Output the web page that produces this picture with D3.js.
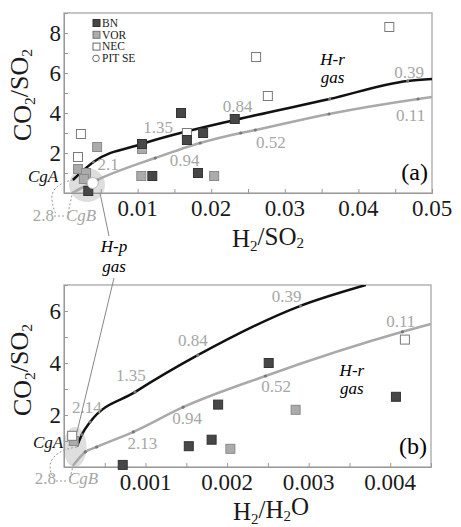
<!DOCTYPE html>
<html lang="en">
<head>
<meta charset="utf-8">
<title>CO2/SO2 vs H2 ratios</title>
<script src="https://cdn.jsdelivr.net/npm/d3@7"></script>
<style>
  body { margin: 0; background: #fff; }
  svg text { font-family: "Liberation Serif", "Times New Roman", "DejaVu Serif", serif; }
</style>
</head>
<body>
<script>
// ---- panel (a): CO2/SO2 vs H2/SO2 ----
var bnA  = [[0.0033,0.1],[0.012,0.85],[0.0106,2.45],[0.0159,4.0],[0.0167,2.65],[0.0189,3.0],[0.0182,1.0],[0.0232,3.7]];
var vorA = [[0.0019,1.2],[0.003,1.0],[0.0027,0.7],[0.0045,2.3],[0.0106,2.2],[0.0105,0.85],[0.0204,0.85]];
var necA = [[0.0019,1.8],[0.0023,2.95],[0.0167,3.0],[0.0261,6.8],[0.0277,4.85],[0.0442,8.3]];
var pitA = [[0.0039,0.5]];
var blackA = [[0.0012,0.65],[0.004,1.55],[0.0106,2.45],[0.0232,3.65],[0.0361,4.7],[0.0467,5.6],[0.05,5.7]];
var grayA  = [[0.0011,0.0],[0.0045,0.65],[0.0124,1.75],[0.0185,2.5],[0.024,3.0],[0.026,3.15],[0.036,3.95],[0.0481,4.7],[0.05,4.8]];
var labelsA = [["2.1",0.006,1.15],["1.35",0.0128,3.0],["0.94",0.0164,1.35],["0.84",0.0236,4.05],
               ["0.52",0.0281,2.25],["0.39",0.0469,5.75],["0.11",0.0471,3.6]];
var xTicksA = [0.01,0.02,0.03,0.04,0.05];
var yTicksA = [2,4,6,8];

// ---- panel (b): CO2/SO2 vs H2/H2O ----
var bnB  = [[0.00072,0.08],[0.00153,0.8],[0.00181,1.05],[0.00189,2.4],[0.00251,4.0],[0.00407,2.7]];
var vorB = [[0.00204,0.7],[0.00284,2.2],[0.00012,1.0]];
var necB = [[0.00418,4.9],[0.0001,1.2]];
var blackB = [[0.00016,0.8],[0.00022,1.25],[0.00032,1.73],[0.00087,2.88],[0.00164,4.3],[0.0029,6.2],[0.0037,7.0]];
var grayB  = [[0.00011,0.05],[0.00026,0.58],[0.0004,0.77],[0.00085,1.35],[0.00146,2.3],[0.00247,3.5],[0.00415,5.2],[0.0045,5.5]];
var labelsB = [["0.39",0.00273,6.35],["0.84",0.00158,4.65],["1.35",0.00082,3.3],["2.14",0.00028,2.08],
               ["0.94",0.00151,1.65],["2.13",0.00096,0.7],["0.52",0.0026,2.9],["0.11",0.00413,5.4]];
var xTicksB = [0.001,0.002,0.003,0.004];
var yTicksB = [2,4,6];

var legendItems = ["BN","VOR","NEC","PIT SE"];

var SERIF = "Liberation Serif, Times New Roman, DejaVu Serif, serif";
var svg = d3.select("body").append("svg")
    .attr("width", 461)
    .attr("height", 527)
    .attr("font-family", SERIF);

var FRAME = "#b3b3b3";
var LABEL_GRAY = "#a6a6a6";

function sub(sel, parts) {
    // parts: [text, isSub, dy]
    parts.forEach(function(p) {
        var t = sel.append("tspan").text(p[0]);
        if (p[1]) t.attr("font-size", "0.6em").attr("dy", "0.25em");
        else t.attr("dy", p[2] || 0);
    });
}

function drawPanel(o) {
    var x = d3.scaleLinear().domain(o.xDomain).range([o.left, o.right]);
    var y = d3.scaleLinear().domain(o.yDomain).range([o.bottom, o.top]);
    var g = svg.append("g");

    var clipId = "clip" + o.id;
    svg.append("clipPath").attr("id", clipId)
        .append("rect")
        .attr("x", o.left).attr("y", o.top)
        .attr("width", o.right - o.left).attr("height", o.bottom - o.top);

    // highlight ellipse (H-p gas region)
    g.append("ellipse")
        .attr("cx", o.ell[0]).attr("cy", o.ell[1])
        .attr("rx", o.ell[2]).attr("ry", o.ell[3])
        .attr("fill", "#dedede");

    // frame
    g.append("rect")
        .attr("x", o.left).attr("y", o.top)
        .attr("width", o.right - o.left).attr("height", o.bottom - o.top)
        .attr("fill", "none").attr("stroke", FRAME).attr("stroke-width", 1.5);

    // ticks (inward)
    var xa = d3.axisBottom(x).tickValues(d3.range(o.xDomain[0], o.xDomain[1] + 1e-9, o.xMinor).slice(1))
        .tickSize(-4).tickFormat("");
    g.append("g").attr("transform", "translate(0," + o.bottom + ")").call(xa)
        .call(function(s) { s.select(".domain").attr("stroke", "#999"); s.selectAll("line").attr("stroke", "#999"); });
    var ya = d3.axisLeft(y).tickValues(d3.range(1, o.yDomain[1] + 0.1, 1)).tickSize(-4).tickFormat("");
    g.append("g").attr("transform", "translate(" + o.left + ",0)").call(ya)
        .call(function(s) { s.select(".domain").attr("stroke", "#999"); s.selectAll("line").attr("stroke", "#999"); });

    // tick labels
    g.selectAll(".xt").data(o.xTicks).enter().append("text")
        .attr("x", function(d) { return x(d); })
        .attr("y", o.bottom + 23)
        .attr("text-anchor", "middle")
        .attr("font-size", 23).attr("fill", "#1a1a1a")
        .text(function(d) { return d3.format("")(d); });
    g.selectAll(".yt").data(o.yTicks).enter().append("text")
        .attr("x", o.left - 3)
        .attr("y", function(d) { return y(d) + 7.5; })
        .attr("text-anchor", "end")
        .attr("font-size", 23).attr("fill", "#1a1a1a")
        .text(function(d) { return d; });

    // lines
    var line = d3.line()
        .x(function(d) { return x(d[0]); })
        .y(function(d) { return y(d[1]); })
        .curve(d3.curveMonotoneX);
    var lg = g.append("g").attr("clip-path", "url(#" + clipId + ")");
    lg.append("path").datum(o.gray).attr("d", line)
        .attr("fill", "none").attr("stroke", "#a9a9a9").attr("stroke-width", 2.5);
    lg.append("path").datum(o.black).attr("d", line)
        .attr("fill", "none").attr("stroke", "#111").attr("stroke-width", 2.5);
    lg.selectAll(".vd").data(o.gray.slice(1, -1).concat(o.black.slice(1, -1))).enter().append("circle")
        .attr("cx", function(d) { return x(d[0]); })
        .attr("cy", function(d) { return y(d[1]); })
        .attr("r", 1.6).attr("fill", "#777");

    // points
    function squares(data, fill, stroke) {
        g.selectAll(null).data(data).enter().append("rect")
            .attr("x", function(d) { return x(d[0]) - 4.5; })
            .attr("y", function(d) { return y(d[1]) - 4.5; })
            .attr("width", 9).attr("height", 9)
            .attr("fill", fill).attr("stroke", stroke).attr("stroke-width", 1);
    }
    squares(o.vor, "#ababab", "#8a8a8a");
    squares(o.nec, "#ffffff", "#7a7a7a");
    squares(o.bn, "#474747", "#333");
    g.selectAll(null).data(o.pit).enter().append("circle")
        .attr("cx", function(d) { return x(d[0]); })
        .attr("cy", function(d) { return y(d[1]); })
        .attr("r", 5.5).attr("fill", "#fff").attr("stroke", "#bbb");

    // numeric labels along curves
    g.selectAll(null).data(o.labels).enter().append("text")
        .attr("x", function(d) { return x(d[1]); })
        .attr("y", function(d) { return y(d[2]); })
        .attr("text-anchor", "middle")
        .attr("font-size", 17).attr("fill", LABEL_GRAY)
        .text(function(d) { return d[0]; });

    // H-r gas
    g.append("text").attr("x", x(o.hr[0])).attr("y", y(o.hr[1]))
        .attr("text-anchor", "middle").attr("font-size", 17).attr("font-style", "italic").text("H-r");
    g.append("text").attr("x", x(o.hr[0])).attr("y", y(o.hr[1]) + 18)
        .attr("text-anchor", "middle").attr("font-size", 17).attr("font-style", "italic").text("gas");

    // panel letter
    g.append("text").attr("x", o.right - 4).attr("y", o.bottom - 13)
        .attr("text-anchor", "end").attr("font-size", 24).text(o.tag);

    // CgA / CgB / 2.8
    g.append("text").attr("x", o.cga[0]).attr("y", o.cga[1])
        .attr("font-size", 17).attr("font-style", "italic").attr("fill", "#111").text("CgA");
    g.append("text").attr("x", o.cgb[0]).attr("y", o.cgb[1])
        .attr("font-size", 17).attr("font-style", "italic").attr("fill", LABEL_GRAY).text("CgB");
    g.append("text").attr("x", o.cgb[0] - 12).attr("y", o.cgb[1])
        .attr("text-anchor", "end")
        .attr("font-size", 17).attr("fill", LABEL_GRAY).text("2.8");
    g.append("path").attr("d", o.dotted)
        .attr("fill", "none").attr("stroke", "#9a9a9a").attr("stroke-width", 1)
        .attr("stroke-dasharray", "2,2");

    // axis titles
    var xt = g.append("text").attr("x", o.xTitle[0]).attr("y", o.xTitle[1])
        .attr("text-anchor", "middle").attr("font-size", 25).attr("fill", "#1a1a1a");
    sub(xt, o.xTitleParts);
    var yt = g.append("text")
        .attr("transform", "translate(" + o.yTitle[0] + "," + o.yTitle[1] + ") rotate(-90)")
        .attr("text-anchor", "middle").attr("font-size", 26).attr("fill", "#1a1a1a");
    sub(yt, [["CO"],["2",1],["/SO",0,"-0.25em"],["2",1]]);
}

drawPanel({
    id: "a", tag: "(a)",
    left: 64, right: 432, top: 13, bottom: 193,
    xDomain: [0, 0.05], yDomain: [0, 9], xMinor: 0.005,
    xTicks: xTicksA, yTicks: yTicksA,
    bn: bnA, vor: vorA, nec: necA, pit: pitA,
    black: blackA, gray: grayA, labels: labelsA,
    hr: [0.0365, 6.4],
    ell: [87, 185, 18, 17],
    cga: [28, 182], cgb: [66, 221],
    dotted: "M73,180 C60,182 50,190 52,200 C53,208 55,212 56,214 M54,216 L65,216 M68,213 L72,195",
    xTitle: [268, 247], xTitleParts: [["H"],["2",1],["/SO",0,"-0.25em"],["2",1]],
    yTitle: [31, 95]
});

drawPanel({
    id: "b", tag: "(b)",
    left: 64, right: 431, top: 285, bottom: 467,
    xDomain: [0, 0.0045], yDomain: [0, 7], xMinor: 0.0005,
    xTicks: xTicksB, yTicks: yTicksB,
    bn: bnB, vor: vorB, nec: necB, pit: [],
    black: blackB, gray: grayB, labels: labelsB,
    hr: [0.00353, 3.5],
    ell: [75, 447, 11.5, 20],
    cga: [33, 448], cgb: [68, 484],
    dotted: "M77,447 C62,449 52,455 50,465 C50,472 52,476 54,478 M56,481 L67,481 M70,478 L73,466",
    xTitle: [271, 520], xTitleParts: [["H"],["2",1],["/H",0,"-0.25em"],["2",1],["O",0,"-0.25em"]],
    yTitle: [31, 370]
});

// legend in panel (a)
var lgd = svg.append("g");
legendItems.forEach(function(name, i) {
    var cy = 23 + i * 11.8;
    if (i === 3) {
        lgd.append("circle").attr("cx", 96).attr("cy", cy).attr("r", 3.3)
            .attr("fill", "#fff").attr("stroke", "#666");
    } else {
        lgd.append("rect").attr("x", 93).attr("y", cy - 3.5).attr("width", 7).attr("height", 7)
            .attr("fill", ["#474747", "#ababab", "#fff"][i]).attr("stroke", ["#333", "#777", "#666"][i]);
    }
    lgd.append("text").attr("x", 102).attr("y", cy + 3.8)
        .attr("font-size", 11.5).attr("fill", "#222").text(name);
});

// H-p gas annotation and leader lines
svg.append("text").attr("x", 114).attr("y", 252).attr("text-anchor", "middle")
    .attr("font-size", 17).attr("font-style", "italic").text("H-p");
svg.append("text").attr("x", 114).attr("y", 272).attr("text-anchor", "middle")
    .attr("font-size", 17).attr("font-style", "italic").text("gas");
svg.append("line").attr("x1", 100).attr("y1", 193).attr("x2", 109).attr("y2", 236)
    .attr("stroke", "#888").attr("stroke-width", 1);
svg.append("line").attr("x1", 114).attr("y1", 278).attr("x2", 77).attr("y2", 432)
    .attr("stroke", "#888").attr("stroke-width", 1);
</script>
</body>
</html>
